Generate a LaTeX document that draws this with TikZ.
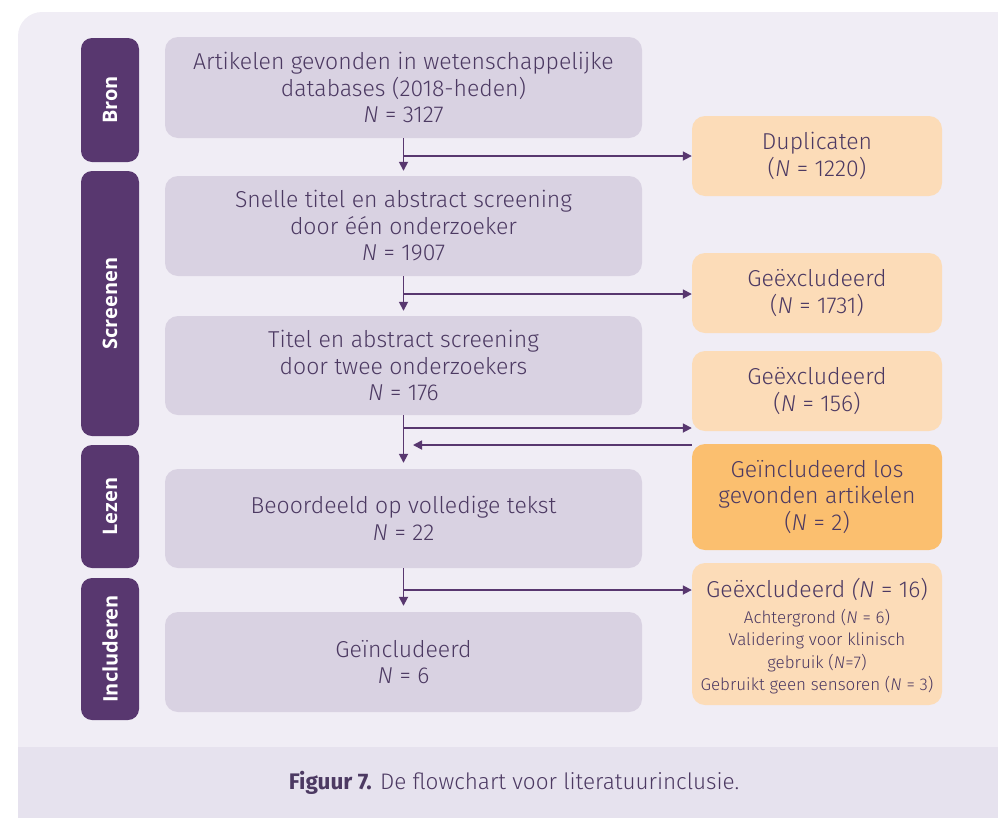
\documentclass[tikz,border=0pt]{standalone}
\usepackage{fontspec}
\setmainfont{Fira Sans Light}
\newfontfamily\sidefont{Open Sans}
\newfontfamily\capbold{Fira Sans}
\usetikzlibrary{arrows.meta,calc}
\definecolor{panel}{HTML}{F0EDF5}
\definecolor{band}{HTML}{E6E2EE}
\definecolor{side}{HTML}{58376F}
\definecolor{greybox}{HTML}{D9D2E2}
\definecolor{lorange}{HTML}{FCDCB8}
\definecolor{dorange}{HTML}{FBBF6F}
\definecolor{txt}{HTML}{4C3962}
\begin{document}
\begin{tikzpicture}[x=1pt,y=-1pt,
  sidebox/.style={fill=side,rounded corners=11pt,inner sep=0pt,minimum width=58pt},
  sidetext/.style={rotate=90,text=white,font=\sidefont\bfseries\fontsize{20}{22}\selectfont},
  mainbox/.style={fill=greybox,rounded corners=13pt,inner sep=0pt,minimum width=477pt,text=txt,align=center,font=\fontsize{23}{26.5}\selectfont},
  sidebox2/.style={rounded corners=13pt,inner sep=0pt,minimum width=250pt,text=txt,align=center,font=\fontsize{23}{26.5}\selectfont},
  arr/.style={draw=side,line width=1.7pt,-{Triangle[length=9pt,width=9pt]}}]
\useasboundingbox (0,0) rectangle (998,817);
\begin{scope}
\clip (0,0) rectangle (998,817);
\path[rounded corners=24pt,clip] (18,12) rectangle (1030,840);
\fill[panel] (0,0) rectangle (1030,840);
\fill[band] (0,747) rectangle (1030,840);
\end{scope}
% side labels
\node[sidebox,minimum height=124pt] (s1) at (110,100) {};
\node[sidetext] at (s1.center) {Bron};
\node[sidebox,minimum height=265pt] (s2) at (110,303.5) {};
\node[sidetext] at (s2.center) {Screenen};
\node[sidebox,minimum height=123pt] (s3) at (110,506.5) {};
\node[sidetext] at (s3.center) {Lezen};
\node[sidebox,minimum height=142pt] (s4) at (110,649) {};
\node[sidetext] at (s4.center) {Includeren};
% main boxes
\node[mainbox,minimum height=101pt] (b1) at (403.5,87.5) {Artikelen gevonden in wetenschappelijke\\databases (2018-heden)\\\textit{N} = 3127};
\node[mainbox,minimum height=100pt] (b2) at (403.5,226) {Snelle titel en abstract screening\\door één onderzoeker\\\textit{N} = 1907};
\node[mainbox,minimum height=99pt] (b3) at (403.5,365.5) {Titel en abstract screening\\door twee onderzoekers\\\textit{N} = 176};
\node[mainbox,minimum height=99pt] (b4) at (403.5,518.5) {Beoordeeld op volledige tekst\\\textit{N} = 22};
\node[mainbox,minimum height=100pt] (b5) at (403.5,662) {Geïncludeerd\\\textit{N} = 6};
% orange boxes
\node[sidebox2,fill=lorange,minimum height=80pt] (o1) at (817,156) {Duplicaten\\(\textit{N} = 1220)};
\node[sidebox2,fill=lorange,minimum height=80pt] (o2) at (817,293) {Geëxcludeerd\\(\textit{N} = 1731)};
\node[sidebox2,fill=lorange,minimum height=80pt] (o3) at (817,391) {Geëxcludeerd\\(\textit{N} = 156)};
\node[sidebox2,fill=dorange,minimum height=106pt] (o4) at (817,497) {Geïncludeerd los\\gevonden artikelen\\(\textit{N} = 2)};
\node[sidebox2,fill=lorange,minimum height=142pt] (o5) at (817,634) {};
\node[text=txt,align=center,font=\fontsize{23}{26.5}\selectfont,inner sep=0pt,anchor=base] (o5t) at (817,597) {Geëxcludeerd \textit{(N} = 16)};
\node[text=txt,align=center,font=\fontsize{17}{22.5}\selectfont,inner sep=0pt,anchor=north] (o5b) at (817,609) {Achtergrond (\textit{N} = 6)\\Validering voor klinisch\\gebruik (\textit{N}=7)\\Gebruikt geen sensoren (\textit{N} = 3)};
% connectors
\coordinate (j1) at (403.5,156);
\coordinate (j2) at (403.5,294);
\coordinate (j3) at (403.5,428);
\coordinate (j4) at (403.5,590);
\coordinate (r1) at (413,445);
\draw[arr] (b1.south) -- ($(b2.north)+(0,-5)$);
\draw[arr] (b2.south) -- ($(b3.north)+(0,-5)$);
\draw[arr] (b3.south) -- ($(b4.north)+(0,-6)$);
\draw[arr] (b4.south) -- ($(b5.north)+(0,-6)$);
\draw[arr] (j1) -- (j1 -| o1.west);
\draw[arr] (j2) -- (j2 -| o2.west);
\draw[arr] (j3) -- (j3 -| o3.west);
\draw[arr] (j4) -- (j4 -| o5.west);
\draw[arr] (r1 -| o4.west) -- (r1);
% caption
\node[text=txt,font=\fontsize{22.5}{25}\selectfont] (cap) at (514,783) {{\capbold\bfseries Figuur 7.} De flowchart voor literatuurinclusie.};
\end{tikzpicture}
\end{document}
